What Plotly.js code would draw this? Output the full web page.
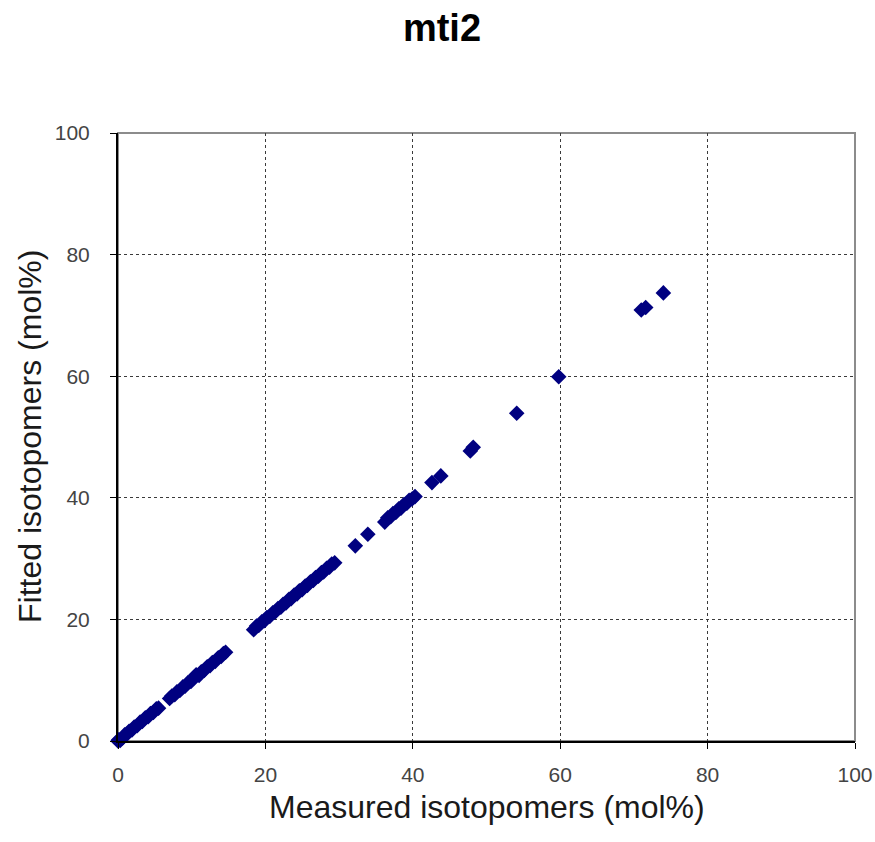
<!DOCTYPE html>
<html>
<head>
<meta charset="utf-8">
<script src="https://cdn.plot.ly/plotly-3.0.1.min.js"></script>
<style>html,body{margin:0;padding:0;background:#fff;}#chart{width:875px;height:842px;}</style>
</head>
<body>
<div id="chart"></div>
<script>
// Measured vs fitted isotopomer fractions (mol%)
const measured = [
  0, 0.1, 0.3, 0.6, 0.9, 1.2, 1.5, 1.9, 2.2, 2.6, 3.0, 3.3, 3.7, 4.1, 4.4, 4.8, 5.2, 5.5,
  7.0, 7.3, 7.7, 8.0, 8.4, 8.8, 9.1, 9.5, 9.9, 10.2, 10.6, 11.0, 11.3, 11.7, 12.1, 12.5, 12.8, 13.2, 13.6, 14.0, 14.3, 14.6,
  18.4, 18.8, 19.1, 19.5, 19.9, 20.2, 20.6, 21.0, 21.3, 21.7, 22.1, 22.4, 22.8, 23.2, 23.5, 23.9, 24.3, 24.6, 25.0, 25.4,
  25.7, 26.1, 26.5, 26.8, 27.2, 27.6, 27.9, 28.3, 28.7, 29.0, 29.4,
  32.2, 33.9,
  36.2, 36.6, 37.0, 37.3, 37.7, 38.1, 38.4, 38.8, 39.2, 39.5, 39.9, 40.3,
  42.6, 43.8, 47.8, 48.2, 54.1, 59.8, 71.0, 71.6, 74.0
];
const fitted = [
  0, 0.2, 0.1, 0.5, 1.0, 1.1, 1.6, 1.8, 2.3, 2.5, 3.1, 3.2, 3.8, 4.0, 4.5, 4.7, 5.3, 5.4,
  7.0, 7.4, 7.6, 8.1, 8.3, 8.9, 9.0, 9.6, 9.8, 10.3, 10.9, 10.8, 11.4, 11.6, 12.2, 12.4, 12.9, 13.1, 13.7, 13.9, 14.4, 14.6,
  18.3, 18.9, 19.0, 19.6, 19.8, 20.3, 20.5, 21.1, 21.2, 21.8, 22.0, 22.5, 22.7, 23.3, 23.4, 24.0, 24.2, 24.7, 24.9, 25.5,
  25.6, 26.2, 26.4, 26.9, 27.1, 27.7, 27.8, 28.4, 28.6, 29.1, 29.3,
  32.1, 34.0,
  36.0, 36.7, 36.9, 37.4, 37.6, 38.2, 38.3, 38.9, 39.1, 39.6, 39.8, 40.2,
  42.5, 43.6, 47.7, 48.3, 53.9, 59.9, 70.9, 71.3, 73.7
];
const tickValues = [0, 20, 40, 60, 80, 100];
const tickLabels = ['0', '20', '40', '60', '80', '100'];

const FONT = 'Liberation Sans, Arial, Helvetica, sans-serif';

const trace = {
  x: measured,
  y: fitted,
  type: 'scatter',
  mode: 'markers',
  cliponaxis: false,
  marker: {symbol: 'diamond', size: 12, color: '#000080', line: {width: 0}},
  hoverinfo: 'x+y'
};

const axisCommon = {
  range: [0, 100],
  tickvals: tickValues,
  ticktext: tickLabels,
  showgrid: true,
  gridcolor: '#3a3a3a',
  gridwidth: 1,
  griddash: 'dot',
  zeroline: false,
  showline: true,
  linecolor: '#000000',
  linewidth: 2,
  ticks: 'outside',
  ticklen: 6,
  tickwidth: 1,
  tickcolor: '#000000',
  tickfont: {family: FONT, size: 21, color: '#444444'},
  fixedrange: true
};

const layout = {
  width: 875,
  height: 842,
  margin: {l: 118, r: 20, t: 133, b: 101},
  paper_bgcolor: '#ffffff',
  plot_bgcolor: '#ffffff',
  showlegend: false,
  font: {family: FONT, color: '#000000'},
  title: {
    text: '<b>mti2</b>',
    font: {family: FONT, size: 38, color: '#000000'},
    xref: 'container', yref: 'container',
    x: 442 / 875, xanchor: 'center',
    y: 1 - 28 / 842, yanchor: 'middle'
  },
  xaxis: Object.assign({}, axisCommon, {ticklabelstandoff: 8}),
  yaxis: Object.assign({}, axisCommon, {ticklabelstandoff: 16}),
  shapes: [{
    type: 'rect', xref: 'paper', yref: 'paper',
    x0: 0, x1: 1, y0: 0, y1: 1,
    line: {color: '#8c8c8c', width: 2},
    layer: 'below'
  }],
  annotations: [
    {
      text: 'Measured isotopomers (mol%)',
      xref: 'paper', yref: 'paper',
      x: 0.5, y: (741 - 807) / 608,
      xanchor: 'center', yanchor: 'middle',
      showarrow: false,
      font: {family: FONT, size: 32, color: '#1a1a1a'}
    },
    {
      text: 'Fitted isotopomers (mol%)',
      xref: 'paper', yref: 'paper',
      x: (30 - 118) / 737, y: 0.5,
      xanchor: 'center', yanchor: 'middle',
      textangle: -90,
      showarrow: false,
      font: {family: FONT, size: 32, color: '#1a1a1a'}
    }
  ]
};

Plotly.newPlot('chart', [trace], layout, {displayModeBar: false, staticPlot: true});
</script>
</body>
</html>
